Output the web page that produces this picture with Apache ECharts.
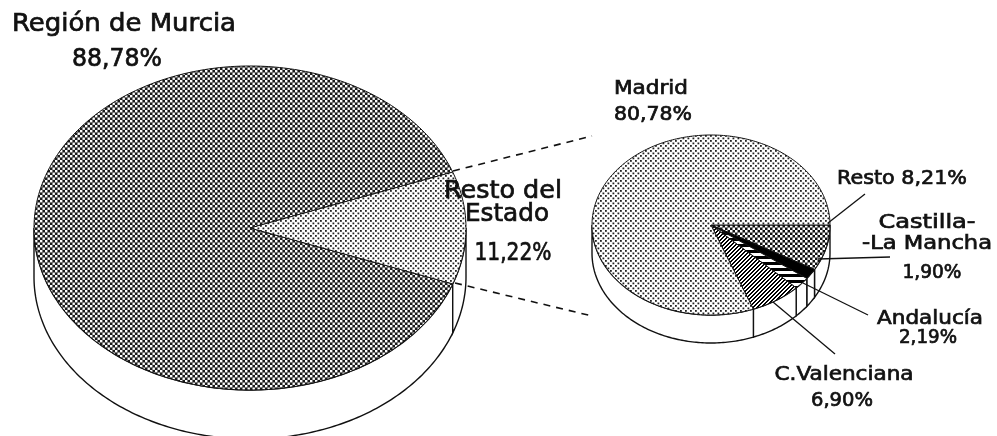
<!DOCTYPE html>
<html>
<head>
<meta charset="utf-8">
<style>
	html, body { margin: 0; padding: 0; background: #fff; }
	#chart { width: 997px; height: 436px; overflow: hidden; }
</style>
<script src="https://cdn.jsdelivr.net/npm/echarts@6/dist/echarts.min.js"></script>
</head>
<body>
<div id="chart"></div>
<script>
const mainNames = ["Región de Murcia", "Resto del\nEstado"];
const mainValues = [88.78, 11.22];
const detailNames = ["Resto", "Castilla-\n-La Mancha", "Andalucía", "C.Valenciana", "Madrid"];
const detailValues = [8.21, 1.90, 2.19, 6.90, 80.78];

function makePattern(size, draw) {
	const canvas = document.createElement("canvas");
	canvas.width = canvas.height = size;
	draw(canvas.getContext("2d"));
	return { image: canvas, repeat: "repeat" };
}

// ajedrezado de celda 2,5 px: fondo y puntos escalonados, como la trama escaneada
function checker(back, dot, dotSize) {
	return makePattern(10, (ctx) => {
		ctx.fillStyle = back;
		ctx.fillRect(0, 0, 10, 10);
		ctx.fillStyle = dot;
		for (let i = 0; i < 4; i++) {
			for (let j = 0; j < 4; j++) {
				if ((i + j) % 2 === 0) ctx.fillRect(i * 2.5, j * 2.5, dotSize, dotSize);
			}
		}
	});
}

const darkDots = checker("#1a1a1a", "#fff", 2.4);
const midDots = checker("#111", "#fff", 2.5);
const lightDots = checker("#fff", "#222", 1.8);
const diagonal = makePattern(4, (ctx) => {
	ctx.fillStyle = "#fff";
	ctx.fillRect(0, 0, 4, 4);
	ctx.fillStyle = "#000";
	for (let i = 0; i < 4; i++) {
		ctx.fillRect(i, 3 - i, 1, 1);
		ctx.fillRect((i + 1) % 4, 3 - i, 1, 1);
	}
});
const stripes = makePattern(6, (ctx) => {
	ctx.fillStyle = "#000";
	ctx.fillRect(0, 0, 6, 6);
	ctx.fillStyle = "#fff";
	ctx.fillRect(0, 1, 6, 3);
});

const mainPie = { cx: 250, cy: 228, rx: 216, ry: 162, depth: 49, start: -20.2, fills: [darkDots, lightDots] };
mainPie.values = mainValues;
// el corte de "Resto" queda centrado en el eje horizontal
mainPie.order = [1, 0];

const detailPie = { cx: 711, cy: 225, rx: 119, ry: 90, depth: 28, start: 0, fills: [midDots, "#000", stripes, diagonal, lightDots] };
detailPie.values = detailValues;
detailPie.order = [0, 1, 2, 3, 4];

function sliceAngles(pie) {
	const total = pie.values.reduce((a, b) => a + b, 0);
	const angles = {};
	let current = pie.start;
	for (const i of pie.order) {
		const sweep = (pie.values[i] / total) * 360;
		angles[i] = [current, current + sweep];
		current += sweep;
	}
	return angles;
}

function rim(pie, from, to, shift) {
	const pts = [];
	const steps = Math.max(2, Math.ceil(Math.abs(to - from)));
	for (let s = 0; s <= steps; s++) {
		const a = ((from + ((to - from) * s) / steps) * Math.PI) / 180;
		pts.push([pie.cx + pie.rx * Math.cos(a), pie.cy + shift + pie.ry * Math.sin(a)]);
	}
	return pts;
}

function topRenderer(pie) {
	const angles = sliceAngles(pie);
	return (params) => {
		const [a, b] = angles[params.dataIndex];
		return {
			type: "polygon",
			shape: { points: [[pie.cx, pie.cy]].concat(rim(pie, a, b, 0)) },
			style: { fill: pie.fills[params.dataIndex], stroke: "#111", lineWidth: 1 },
		};
	};
}

function wallRenderer(pie) {
	const angles = sliceAngles(pie);
	return (params) => {
		const [a, b] = angles[params.dataIndex];
		// solo la mitad delantera del cilindro es visible
		const from = Math.max(a, 0);
		const to = Math.min(b, 180);
		if (to <= from) return null;
		const front = rim(pie, from, to, 0);
		const back = rim(pie, to, from, pie.depth);
		return {
			type: "polygon",
			shape: { points: front.concat(back) },
			style: { fill: "#fff", stroke: "#111", lineWidth: 1.4 },
		};
	};
}

function pct(v) {
	return v.toFixed(2).replace(".", ",") + "%";
}

function pieSeries(pie) {
	const data = pie.values.map((v) => [v]);
	return [
		{ type: "custom", coordinateSystem: "none", silent: true, z: 2, data, renderItem: wallRenderer(pie), animation: false },
		{ type: "custom", coordinateSystem: "none", silent: true, z: 3, data, renderItem: topRenderer(pie), animation: false },
	];
}

const TEXT_FONT = '"DejaVu Sans", sans-serif';
const measure = document.createElement("canvas").getContext("2d");

// el original va muy espaciado: se ensancha cada línea hasta su ancho real
function labelLines(text, positions, size) {
	const font = `${size}px ${TEXT_FONT}`;
	measure.font = font;
	return text.split("\n").map((line, i) => ({
		type: "text",
		x: positions[i][0],
		y: positions[i][1],
		scaleX: positions[i][2] / measure.measureText(line).width,
		z: 10,
		silent: true,
		style: {
			text: line,
			fill: "#111",
			stroke: "#111",
			lineWidth: 0.7,
			font,
			textAlign: "center",
			textVerticalAlign: "middle",
		},
	}));
}

function leader(from, to, dashed) {
	return {
		type: "line",
		z: 5,
		silent: true,
		shape: { x1: from[0], y1: from[1], x2: to[0], y2: to[1] },
		style: { stroke: "#111", lineWidth: dashed ? 1.6 : 1.3, lineDash: dashed ? [7, 6] : null },
	};
}

const graphics = [
	...labelLines(mainNames[0] + "\n" + pct(mainValues[0]), [[124, 25, 224], [117, 60, 90]], 24),
	...labelLines(mainNames[1] + "\n" + pct(mainValues[1]), [[503, 192, 118], [507, 215, 84], [513, 254, 77]], 24),
	...labelLines(detailNames[4] + "\n" + pct(detailValues[4]), [[651, 89, 74], [653, 115, 78]], 19),
	...labelLines(detailNames[0] + " " + pct(detailValues[0]), [[902, 179, 130]], 19),
	...labelLines(detailNames[1] + "\n" + pct(detailValues[1]), [[927, 223, 97], [927, 244, 130], [932, 273, 59]], 19),
	...labelLines(detailNames[2] + "\n" + pct(detailValues[2]), [[930, 319, 106], [928, 338, 58]], 19),
	...labelLines(detailNames[3] + "\n" + pct(detailValues[3]), [[844, 375, 139], [842, 401, 62]], 19),
	leader([453, 171], [592, 136], true),
	leader([455, 283], [592, 316], true),
	leader([865, 194], [828, 223]),
	leader([890, 257], [818, 259]),
	leader([868, 315], [803, 283]),
	leader([835, 354], [773, 302]),
];

const chart = echarts.init(document.getElementById("chart"), null, { renderer: "canvas" });
chart.setOption({
	animation: false,
	backgroundColor: "#fff",
	series: [...pieSeries(mainPie), ...pieSeries(detailPie)],
	graphic: { elements: graphics },
});
</script>
</body>
</html>
